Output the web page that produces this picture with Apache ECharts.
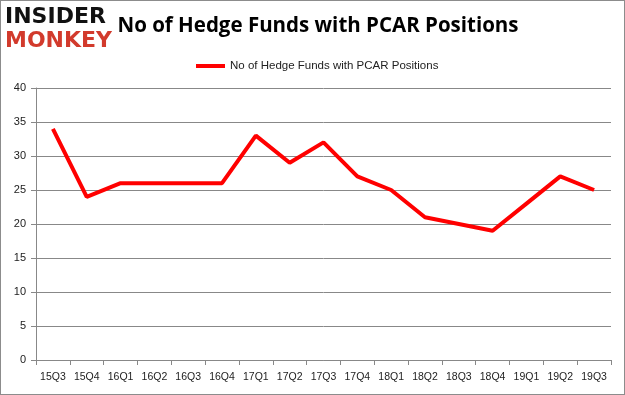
<!DOCTYPE html>
<html><head><meta charset="utf-8">
<script src="https://cdn.jsdelivr.net/npm/echarts@6/dist/echarts.min.js"></script>
<style>
html,body{margin:0;padding:0;background:#fff;}
#c{width:623px;height:393px;border:1px solid #8c8c8c;}
</style></head>
<body><div id="c"></div>
<script>
const categories = ['15Q3','15Q4','16Q1','16Q2','16Q3','16Q4','17Q1','17Q2','17Q3','17Q4','18Q1','18Q2','18Q3','18Q4','19Q1','19Q2','19Q3'];
const hedgeFunds = [34,24,26,26,26,26,33,29,32,27,25,21,20,19,23,27,25];
const seriesName = 'No of Hedge Funds with PCAR Positions';

const chart = echarts.init(document.getElementById('c'));
chart.setOption({
  animation:false,
  title:{text:'No of Hedge Funds with PCAR Positions', left:312, top:10, textAlign:'center',
    textStyle:{fontFamily:'Open Sans', fontWeight:'bold', fontSize:20.5, color:'#000'}},
  graphic:[
    {type:'text', left:4, top:5, style:{text:'INSIDER', fontFamily:'DejaVu Sans', fontWeight:'bold', fontSize:22, fill:'#111'}},
    {type:'text', left:4, top:29, style:{text:'MONKEY', fontFamily:'DejaVu Sans', fontWeight:'bold', fontSize:22, fill:'#d23a2c'}}
  ],
  legend:{data:[seriesName], top:54, left:190, itemWidth:29, itemHeight:4, itemGap:3,
    icon:'rect',
    textStyle:{fontFamily:'Liberation Sans', fontSize:11.5, color:'#222'}},
  grid:{left:35, right:13, top:87, bottom:34, containLabel:false},
  xAxis:{type:'category', data:categories, boundaryGap:true,
    axisLine:{lineStyle:{color:'#888', width:1}},
    axisTick:{show:true, length:5, alignWithLabel:false, lineStyle:{color:'#888'}},
    axisLabel:{fontFamily:'Liberation Sans', fontSize:10.5, color:'#222', margin:12, interval:0}},
  yAxis:{type:'value', min:0, max:40, interval:5,
    axisLine:{show:true, lineStyle:{color:'#888'}},
    axisTick:{show:true, length:5, lineStyle:{color:'#888'}},
    splitLine:{lineStyle:{color:'#888', width:1}},
    axisLabel:{fontFamily:'Liberation Sans', fontSize:11, color:'#222', margin:10}},
  series:[{name:seriesName, type:'line', data:hedgeFunds, showSymbol:false, symbol:'none',
    lineStyle:{color:'#ff0000', width:4}, itemStyle:{color:'#ff0000'}}]
});
</script></body></html>
